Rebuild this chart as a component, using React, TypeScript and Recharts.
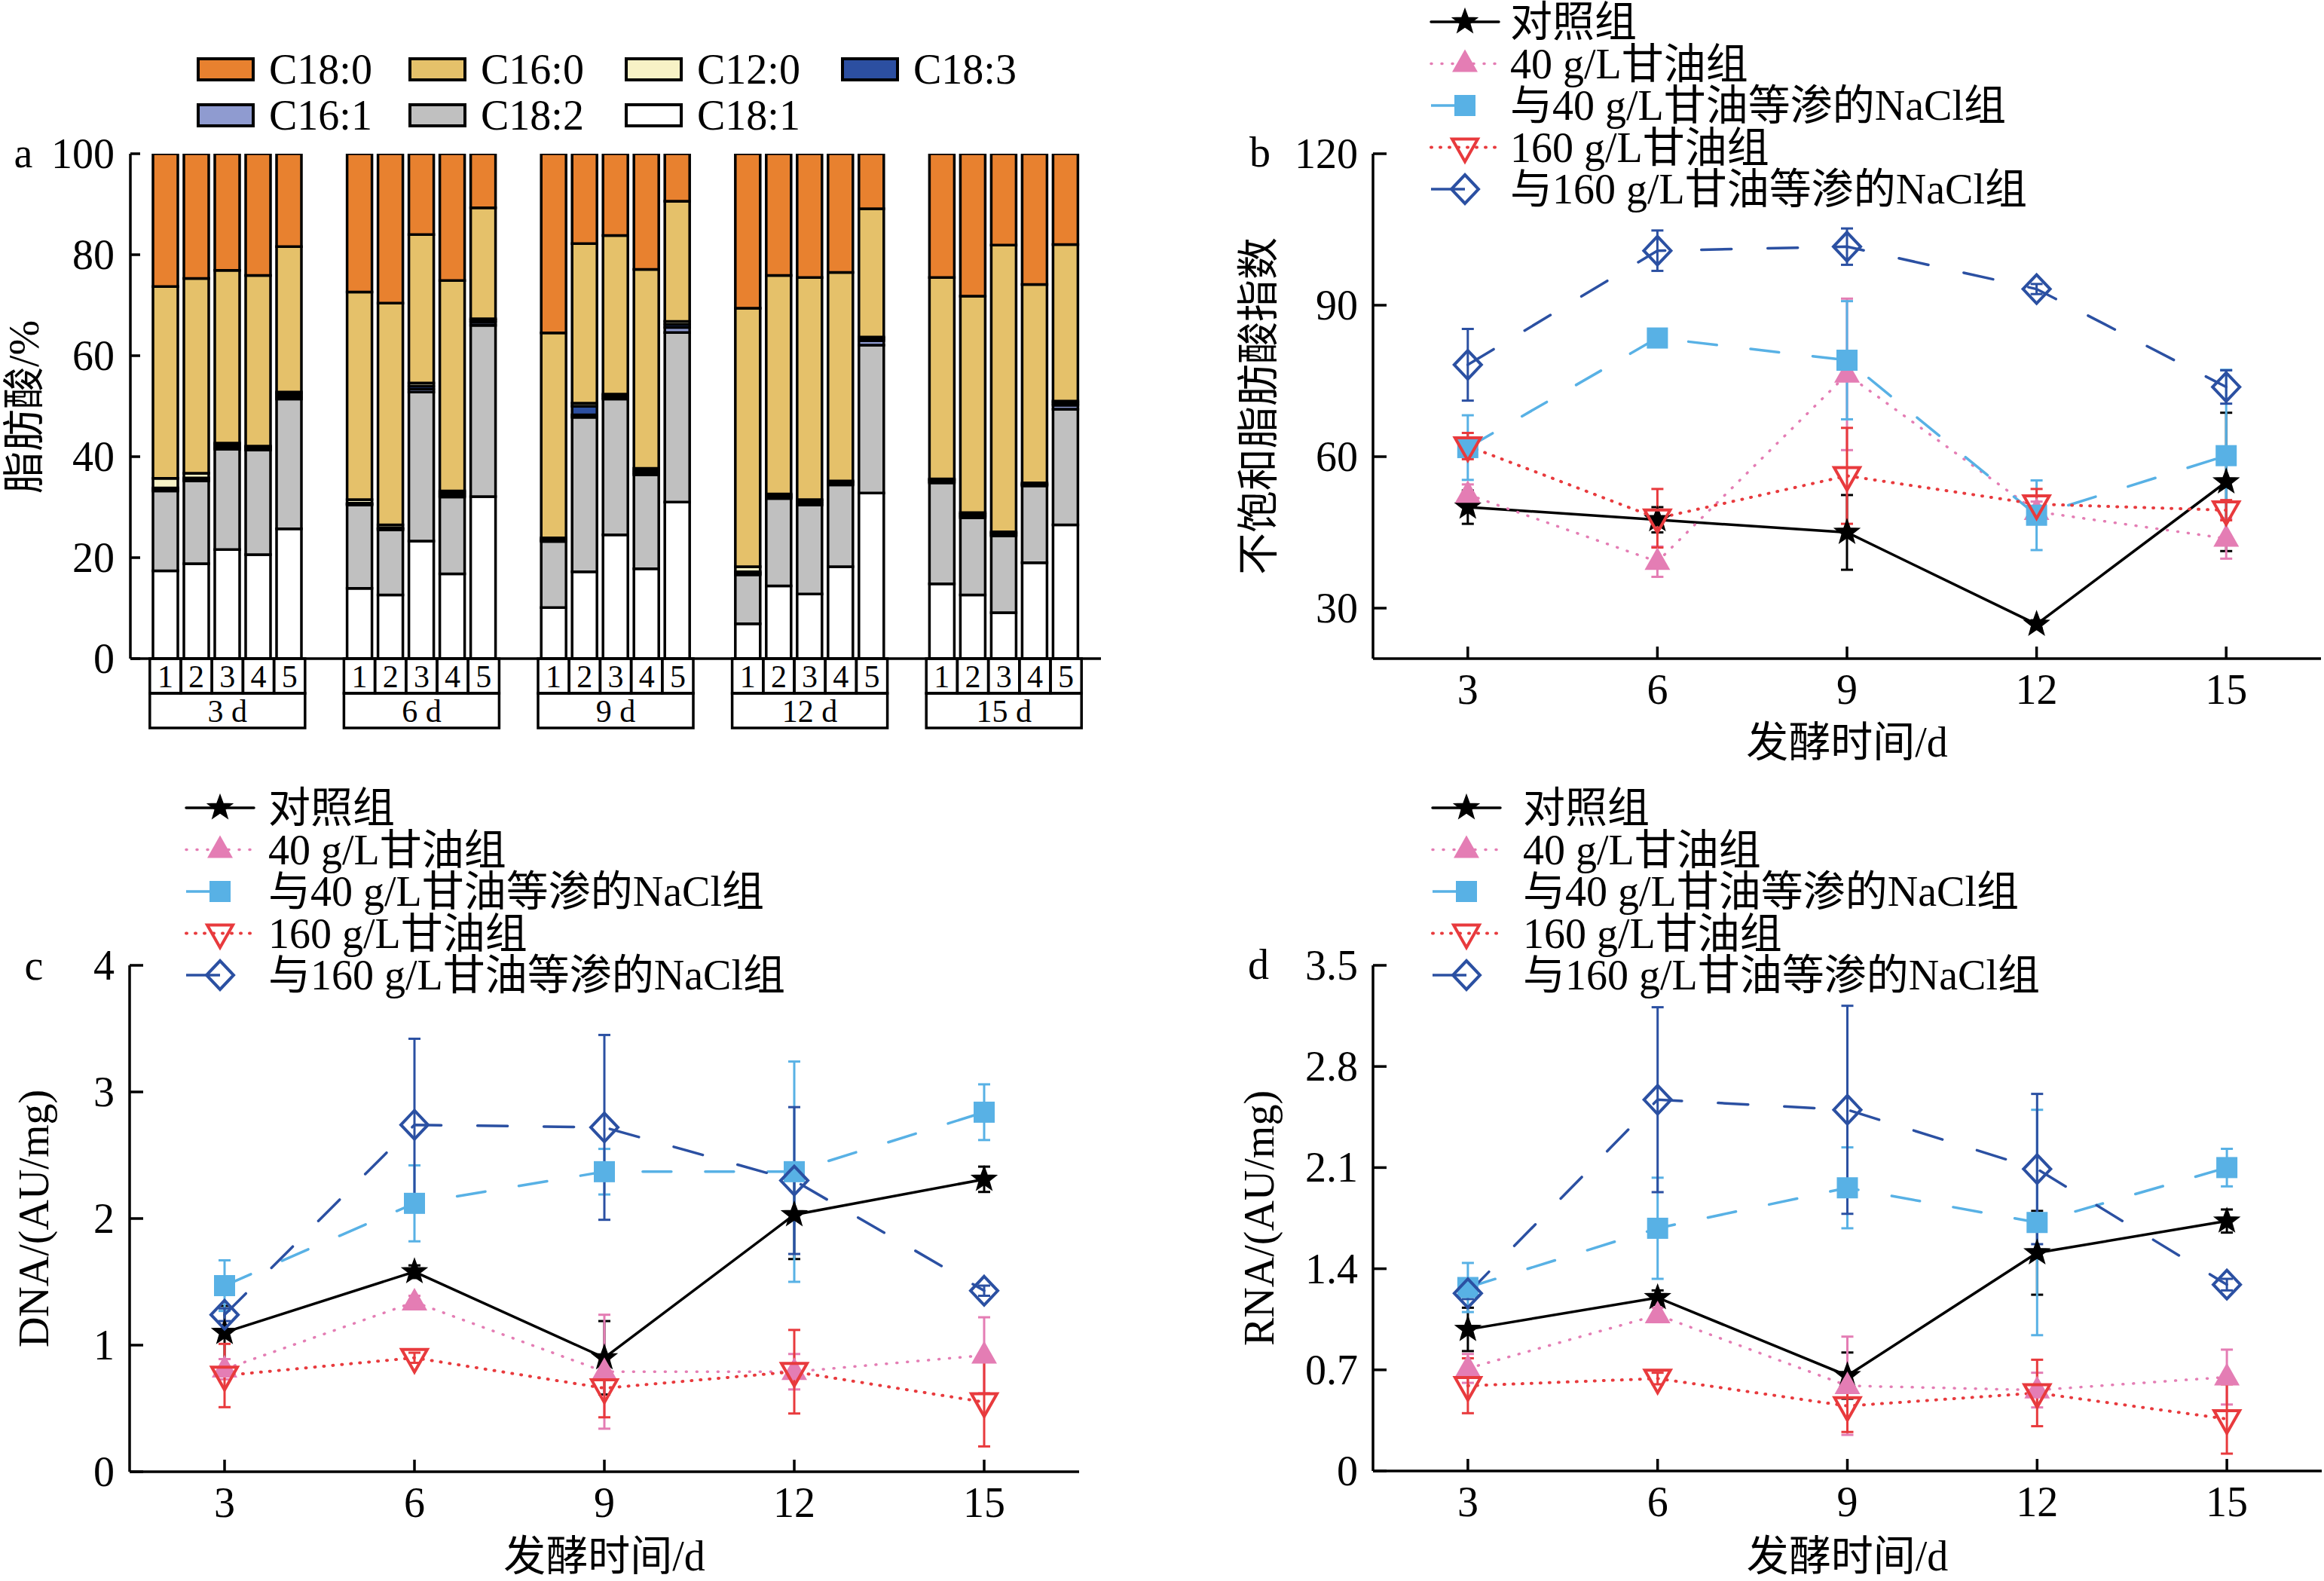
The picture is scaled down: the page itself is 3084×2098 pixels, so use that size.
import React from "react";
import { BarChart, Bar, LineChart, Line, XAxis, YAxis, ErrorBar, Legend } from "recharts";

const FONT = '"Liberation Serif", "Noto Sans CJK SC", serif';
const FS = 56;
const AXW = 3.5;

// panel a: fatty acid composition (%), 5 samples per sampling day
const days = ["3 d", "6 d", "9 d", "12 d", "15 d"];
const samples = [1, 2, 3, 4, 5];
const c181 = [17.4, 18.8, 21.6, 20.6, 25.7, 13.9, 12.6, 23.3, 16.8, 32.1, 10.1, 17.2, 24.5, 17.8, 31.0, 6.9, 14.4, 12.8, 18.2, 32.8, 14.8, 12.6, 9.1, 19.0, 26.5];
const c182 = [15.8, 16.4, 19.9, 20.7, 25.7, 16.5, 12.9, 29.5, 15.2, 33.9, 13.1, 30.6, 26.9, 18.6, 33.6, 9.7, 17.3, 17.6, 16.2, 29.3, 20.0, 15.3, 15.2, 15.2, 22.9];
const c161 = [0.3, 0.3, 0.4, 0.3, 0.5, 0.2, 0.2, 0.6, 0.4, 0.6, 0.2, 0.5, 0.3, 0.4, 1.0, 0.3, 0.3, 0.4, 0.3, 0.9, 0.3, 0.4, 0.3, 0.2, 0.8];
const c183 = [0.3, 0.3, 0.5, 0.3, 0.5, 0.2, 0.2, 0.6, 0.4, 0.4, 0.2, 1.7, 0.4, 0.4, 0.6, 0.3, 0.3, 0.4, 0.3, 0.4, 0.3, 0.3, 0.3, 0.2, 0.4];
const c120 = [1.9, 0.9, 0.3, 0.2, 0.4, 0.7, 0.6, 0.6, 0.4, 0.3, 0.3, 0.6, 0.3, 0.5, 0.6, 1.0, 0.3, 0.3, 0.2, 0.3, 0.2, 0.3, 0.2, 0.2, 0.4];
const c160 = [38.0, 38.6, 34.2, 33.8, 28.8, 41.1, 43.9, 29.4, 41.7, 22.0, 40.6, 31.6, 31.4, 39.4, 23.8, 51.2, 43.3, 44.0, 41.3, 25.4, 39.9, 42.9, 56.8, 39.3, 31.0];
const c180 = [26.3, 24.7, 23.1, 24.1, 18.4, 27.4, 29.6, 16.0, 25.1, 10.7, 35.5, 17.8, 16.2, 22.9, 9.4, 30.6, 24.1, 24.5, 23.5, 10.9, 24.5, 28.2, 18.1, 25.9, 18.0];

const acids = [
  { key: "c181", name: "C18:1", fill: "#FFFFFF", vals: c181 },
  { key: "c182", name: "C18:2", fill: "#C0C0C0", vals: c182 },
  { key: "c161", name: "C16:1", fill: "#8F9BD0", vals: c161 },
  { key: "c183", name: "C18:3", fill: "#2C4FA1", vals: c183 },
  { key: "c120", name: "C12:0", fill: "#F7F2C6", vals: c120 },
  { key: "c160", name: "C16:0", fill: "#E5C16A", vals: c160 },
  { key: "c180", name: "C18:0", fill: "#E8812F", vals: c180 },
];
const legendOrderA = ["c180", "c160", "c120", "c183", "c161", "c182", "c181"];

const barRows = days.map((d, g) => {
  const row: any = { day: d };
  acids.forEach((a) => samples.forEach((s, i) => (row[`${a.key}_${s}`] = a.vals[g * 5 + i])));
  return row;
});

// panels b-d
const fermDays = [3, 6, 9, 12, 15];

const ufaCtrl = [50.0, 47.5, 45.0, 26.8, 55.0];
const ufaG40 = [52.5, 39.2, 76.3, 49.1, 43.8];
const ufaNa40 = [61.8, 83.5, 79.1, 48.4, 60.2];
const ufaG160 = [62.1, 47.8, 56.2, 50.6, 49.4];
const ufaNa160 = [78.2, 100.8, 101.6, 93.2, 73.8];
const ufaCtrlErr = [3.3, 2.5, 7.4, 0.8, 13.7];
const ufaG40Err = [2.0, 3.0, 15.0, 2.0, 4.0];
const ufaNa40Err = [6.4, 1.0, 11.7, 6.9, 17.0];
const ufaG160Err = [2.6, 5.8, 9.5, 3.0, 2.0];
const ufaNa160Err = [7.1, 4.0, 3.6, 1.0, 3.3];

const dnaCtrl = [1.1, 1.58, 0.9, 2.03, 2.31];
const dnaG40 = [0.81, 1.34, 0.79, 0.79, 0.92];
const dnaNa40 = [1.47, 2.12, 2.37, 2.37, 2.84];
const dnaG160 = [0.76, 0.9, 0.66, 0.79, 0.55];
const dnaNa160 = [1.24, 2.74, 2.72, 2.3, 1.43];
const dnaCtrlErr = [0.21, 0.05, 0.29, 0.35, 0.1];
const dnaG40Err = [0.08, 0.05, 0.45, 0.14, 0.3];
const dnaNa40Err = [0.2, 0.3, 0.18, 0.87, 0.22];
const dnaG160Err = [0.25, 0.04, 0.23, 0.33, 0.35];
const dnaNa160Err = [0.05, 0.68, 0.73, 0.58, 0.04];

const rnaCtrl = [0.98, 1.2, 0.66, 1.51, 1.73];
const rnaG40 = [0.71, 1.08, 0.59, 0.56, 0.65];
const rnaNa40 = [1.27, 1.68, 1.96, 1.72, 2.1];
const rnaG160 = [0.59, 0.64, 0.45, 0.54, 0.36];
const rnaNa160 = [1.23, 2.57, 2.5, 2.09, 1.29];
const rnaCtrlErr = [0.15, 0.05, 0.16, 0.29, 0.08];
const rnaG40Err = [0.1, 0.05, 0.34, 0.12, 0.19];
const rnaNa40Err = [0.17, 0.35, 0.28, 0.78, 0.13];
const rnaG160Err = [0.19, 0.04, 0.18, 0.23, 0.24];
const rnaNa160Err = [0.04, 0.64, 0.72, 0.52, 0.04];

const seriesStyle = [
  { name: "对照组", color: "#000000", dash: undefined, width: 3.5, marker: "star", dashed: false },
  { name: "40 g/L甘油组", color: "#E47DB4", dash: "1 13", width: 3.5, marker: "tri", dashed: false },
  { name: "与40 g/L甘油等渗的NaCl组", color: "#58B1E5", dash: "38 45", width: 3.5, marker: "square", dashed: true },
  { name: "160 g/L甘油组", color: "#E83A3D", dash: "1 11", width: 4, marker: "itri", dashed: false },
  { name: "与160 g/L甘油等渗的NaCl组", color: "#2B50A2", dash: "40 48", width: 3.5, marker: "diamond", dashed: true },
];

const Marker = ({ kind, cx, cy, color }: any) => {
  if (cx == null || cy == null) return null;
  if (kind === "star") {
    const pts: string[] = [];
    for (let i = 0; i < 10; i++) {
      const r = i % 2 === 0 ? 17 : 7;
      const a = -Math.PI / 2 + (i * Math.PI) / 5;
      pts.push(`${cx + r * Math.cos(a)},${cy + r * Math.sin(a)}`);
    }
    return <polygon points={pts.join(" ")} fill={color} stroke={color} strokeWidth={1.5} />;
  }
  if (kind === "tri") return <polygon points={`${cx},${cy - 19} ${cx + 17},${cy + 11} ${cx - 17},${cy + 11}`} fill={color} />;
  if (kind === "square") return <rect x={cx - 14} y={cy - 14} width={28} height={28} fill={color} />;
  if (kind === "itri")
    return <polygon points={`${cx - 17},${cy - 11} ${cx + 17},${cy - 11} ${cx},${cy + 19}`} fill="none" stroke={color} strokeWidth={4} />;
  return <polygon points={`${cx},${cy - 19} ${cx + 18},${cy} ${cx},${cy + 19} ${cx - 18},${cy}`} fill="none" stroke={color} strokeWidth={4} />;
};

const YTick = (p: any) => {
  const { x, y, payload, len, gap } = p;
  return (
    <g>
      <line x1={x} x2={x + len} y1={y} y2={y} stroke="#000" strokeWidth={AXW} />
      <text x={x - gap} y={y} textAnchor="end" dominantBaseline="central" fontFamily={FONT} fontSize={FS} fill="#000">
        {payload.value}
      </text>
    </g>
  );
};

const XTick = (p: any) => {
  const { x, y, payload } = p;
  return (
    <g>
      <line x1={x} x2={x} y1={y} y2={y - 16} stroke="#000" strokeWidth={AXW} />
      <text x={x} y={y + 41} textAnchor="middle" dominantBaseline="central" fontFamily={FONT} fontSize={FS} fill="#000">
        {payload.value}
      </text>
    </g>
  );
};

const GroupTick = (p: any) => {
  const { x, y, payload } = p;
  const w = 41.2;
  const h = 46;
  const left = x - 2.5 * w;
  return (
    <g>
      {samples.map((s, i) => (
        <g key={s}>
          <rect x={left + i * w} y={y} width={w} height={h} fill="none" stroke="#000" strokeWidth={3.5} />
          <text x={left + i * w + w / 2} y={y + h / 2 + 1} textAnchor="middle" dominantBaseline="central" fontFamily={FONT} fontSize={42} fill="#000">
            {s}
          </text>
        </g>
      ))}
      <rect x={left} y={y + h} width={5 * w} height={h} fill="none" stroke="#000" strokeWidth={3.5} />
      <text x={x} y={y + 1.5 * h + 1} textAnchor="middle" dominantBaseline="central" fontFamily={FONT} fontSize={42} fill="#000">
        {payload.value}
      </text>
    </g>
  );
};

// axis titles use their own coordinate props (tx, ty) so Recharts' cloned label props do not override them
const AxisTitle = ({ tx, ty, rotate, text }: any) => (
  <text
    x={tx}
    y={ty}
    transform={rotate ? `rotate(-90 ${tx} ${ty})` : undefined}
    textAnchor="middle"
    dominantBaseline="central"
    fontFamily={FONT}
    fontSize={FS}
    fill="#000"
  >
    {text}
  </text>
);

const BarLegend = () => {
  const cols = [0, 281, 568, 855];
  return (
    <svg width={1150} height={130} style={{ display: "block", overflow: "visible" }}>
      {legendOrderA.map((k, i) => {
        const a = acids.find((e) => e.key === k)!;
        const cx = cols[i % 4];
        const cy = i < 4 ? 32 : 93;
        return (
          <g key={k}>
            <rect x={cx + 2} y={cy - 14} width={73} height={28} fill={a.fill} stroke="#000" strokeWidth={4} />
            <text x={cx + 96} y={cy} dominantBaseline="central" fontFamily={FONT} fontSize={FS} fill="#000">
              {a.name}
            </text>
          </g>
        );
      })}
    </svg>
  );
};

const LineLegend = ({ textX }: any) => (
  <svg width={1300} height={330} style={{ display: "block", overflow: "visible" }}>
    {seriesStyle.map((s, k) => {
      const y = 32 + k * 55.5;
      return (
        <g key={k}>
          {s.dashed ? (
            <line x1={0} x2={45} y1={y} y2={y} stroke={s.color} strokeWidth={s.width} />
          ) : (
            <line x1={0} x2={90} y1={y} y2={y} stroke={s.color} strokeWidth={s.width} strokeDasharray={s.dash} strokeLinecap="round" />
          )}
          <Marker kind={s.marker} cx={45} cy={y} color={s.color} />
          <text x={textX} y={y} dominantBaseline="central" fontFamily={FONT} fontSize={FS} fill="#000">
            {s.name}
          </text>
        </g>
      );
    })}
  </svg>
);

const BarPanel = () => (
  <BarChart width={1470} height={1000} data={barRows} margin={{ top: 204, right: 9, bottom: 0, left: 0 }} barGap={8}>
    <XAxis
      dataKey="day"
      height={126}
      interval={0}
      tickSize={0}
      tickMargin={0}
      tickLine={false}
      axisLine={{ stroke: "#000", strokeWidth: AXW }}
      tick={<GroupTick />}
    />
    <YAxis
      type="number"
      domain={[0, 100]}
      ticks={[0, 20, 40, 60, 80, 100]}
      allowDataOverflow
      width={173}
      tickSize={0}
      tickMargin={0}
      tickLine={false}
      axisLine={{ stroke: "#000", strokeWidth: AXW }}
      tick={<YTick len={13} gap={21} />}
      label={<AxisTitle tx={32} ty={540} rotate text="脂肪酸/%" />}
    />
    <Legend
      layout="vertical"
      align="center"
      verticalAlign="middle"
      wrapperStyle={{ left: 261, top: 60, width: 1150, height: 130 }}
      content={() => <BarLegend />}
    />
    {samples.map((s) =>
      acids.map((a) => (
        <Bar
          key={`${a.key}_${s}`}
          dataKey={`${a.key}_${s}`}
          stackId={`s${s}`}
          fill={a.fill}
          stroke="#000"
          strokeWidth={3.5}
          barSize={33}
          isAnimationActive={false}
        />
      ))
    )}
  </BarChart>
);

const LinePanel = (p: any) => {
  const rows = fermDays.map((d, i) => {
    const r: any = { day: d };
    p.vals.forEach((v: number[], k: number) => {
      r[`v${k}`] = v[i];
      r[`e${k}`] = p.errs[k][i];
    });
    return r;
  });
  const plotMidX = p.yAxisW + (p.width - p.right - p.yAxisW) / 2;
  const plotMidY = p.top + (p.height - p.top - p.xAxisH) / 2;
  return (
    <LineChart width={p.width} height={p.height} data={rows} margin={{ top: p.top, right: p.right, bottom: 0, left: 0 }}>
      <XAxis
        type="number"
        dataKey="day"
        domain={[1.5, 16.5]}
        ticks={fermDays}
        allowDataOverflow
        height={p.xAxisH}
        tickSize={0}
        tickMargin={0}
        tickLine={false}
        axisLine={{ stroke: "#000", strokeWidth: AXW }}
        tick={<XTick />}
        label={<AxisTitle tx={plotMidX} ty={p.xTitleY} text="发酵时间/d" />}
      />
      <YAxis
        type="number"
        domain={p.domain}
        ticks={p.ticks}
        allowDataOverflow
        width={p.yAxisW}
        tickSize={0}
        tickMargin={0}
        tickLine={false}
        axisLine={{ stroke: "#000", strokeWidth: AXW }}
        tick={<YTick len={18} gap={20} />}
        label={<AxisTitle tx={p.yTitleX} ty={plotMidY} rotate text={p.yTitle} />}
      />
      <Legend
        layout="vertical"
        align="center"
        verticalAlign="middle"
        wrapperStyle={{ left: p.legendLeft, top: p.legendTop, width: 1300, height: 330 }}
        content={() => <LineLegend textX={p.legendTextX} />}
      />
      {seriesStyle.map((s, k) => (
        <Line
          key={k}
          type="linear"
          dataKey={`v${k}`}
          stroke={s.color}
          strokeWidth={s.width}
          strokeDasharray={s.dash}
          strokeLinecap="round"
          dot={(d: any) => <Marker key={`m${k}-${d.index}`} kind={s.marker} cx={d.cx} cy={d.cy} color={s.color} />}
          activeDot={false}
          isAnimationActive={false}
        >
          <ErrorBar dataKey={`e${k}`} width={8} stroke={s.color} strokeWidth={3} direction="y" isAnimationActive={false} />
        </Line>
      ))}
    </LineChart>
  );
};

export default function App() {
  return (
    <div style={{ position: "absolute", left: 0, top: 0, width: 3084, height: 2098, background: "#fff", fontFamily: FONT }}>
      <div style={{ position: "absolute", left: 0, top: 0 }}>
        <BarPanel />
      </div>
      <div style={{ position: "absolute", left: 1600, top: 0 }}>
        <LinePanel
          vals={[ufaCtrl, ufaG40, ufaNa40, ufaG160, ufaNa160]}
          errs={[ufaCtrlErr, ufaG40Err, ufaNa40Err, ufaG160Err, ufaNa160Err]}
          domain={[20, 120]}
          ticks={[30, 60, 90, 120]}
          width={1484}
          height={1030}
          top={204}
          right={4}
          yAxisW={222}
          xAxisH={156}
          yTitle="不饱和脂肪酸指数"
          yTitleX={70}
          xTitleY={985}
          legendLeft={299}
          legendTop={-3}
          legendTextX={105}
        />
      </div>
      <div style={{ position: "absolute", left: 0, top: 1000 }}>
        <LinePanel
          vals={[dnaCtrl, dnaG40, dnaNa40, dnaG160, dnaNa160]}
          errs={[dnaCtrlErr, dnaG40Err, dnaNa40Err, dnaG160Err, dnaNa160Err]}
          domain={[0, 4]}
          ticks={[0, 1, 2, 3, 4]}
          width={1440}
          height={1098}
          top={281}
          right={8}
          yAxisW={172}
          xAxisH={145}
          yTitle="DNA/(AU/mg)"
          yTitleX={45}
          xTitleY={1065}
          legendLeft={247}
          legendTop={40}
          legendTextX={109}
        />
      </div>
      <div style={{ position: "absolute", left: 1600, top: 1000 }}>
        <LinePanel
          vals={[rnaCtrl, rnaG40, rnaNa40, rnaG160, rnaNa160]}
          errs={[rnaCtrlErr, rnaG40Err, rnaNa40Err, rnaG160Err, rnaNa160Err]}
          domain={[0, 3.5]}
          ticks={[0, 0.7, 1.4, 2.1, 2.8, 3.5]}
          width={1484}
          height={1098}
          top={281}
          right={3}
          yAxisW={222}
          xAxisH={146}
          yTitle="RNA/(AU/mg)"
          yTitleX={71}
          xTitleY={1065}
          legendLeft={301}
          legendTop={40}
          legendTextX={120}
        />
      </div>
      <svg width={3084} height={2098} style={{ position: "absolute", left: 0, top: 0, pointerEvents: "none" }}>
        {[
          { t: "a", x: 31, y: 203 },
          { t: "b", x: 1672, y: 202 },
          { t: "c", x: 45, y: 1281 },
          { t: "d", x: 1670, y: 1280 },
        ].map((l) => (
          <text key={l.t} x={l.x} y={l.y} textAnchor="middle" dominantBaseline="central" fontFamily={FONT} fontSize={FS} fill="#000">
            {l.t}
          </text>
        ))}
      </svg>
    </div>
  );
}
